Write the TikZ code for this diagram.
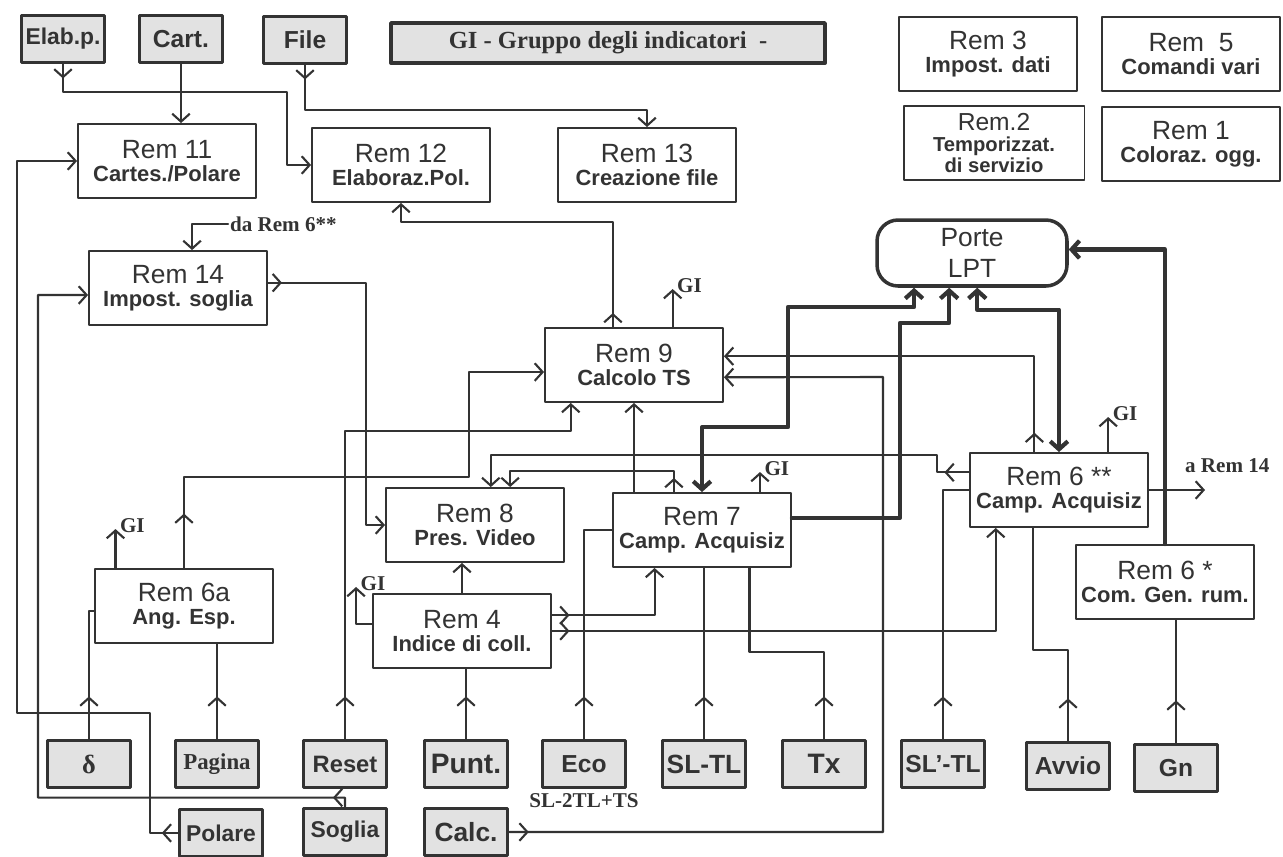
\documentclass[tikz,border=0pt]{standalone}
\usepackage{fontspec}
\setmainfont{Liberation Sans}
\newfontfamily\tsfont{Liberation Serif}
\usepackage{tikz}
\usetikzlibrary{arrows.meta,decorations.markings,positioning}
\definecolor{ink}{HTML}{333333}
\definecolor{boxgray}{HTML}{E2E2E2}
\newcommand\remhead{\fontsize{15}{17}\selectfont}
\newcommand\remsub{\bfseries\fontsize{12.5}{14}\selectfont}
\tikzset{
  every picture/.append style={line cap=round,line join=round},
  every node/.append style={text=ink},
  remblock/.style={draw=ink,line width=1.1pt,fill=white,minimum width=3.56cm,minimum height=1.48cm,align=center,inner sep=1pt},
  inblock/.style={draw=ink,line width=2.2pt,fill=boxgray,minimum width=1.66cm,minimum height=0.94cm,inner sep=1pt},
  wire/.style={draw=ink,line width=1.2pt},
  buswire/.style={draw=ink,line width=2.4pt},
  tipat/.style={postaction={decorate,decoration={markings,mark=at position #1 with {\arrow{>}}}}},
  gilabel/.style={font=\tsfont\bfseries\fontsize{12}{13}\selectfont,inner sep=0pt,anchor=base west,xshift=2pt,yshift=-2pt},
  notelabel/.style={font=\tsfont\bfseries\fontsize{12}{13}\selectfont,inner sep=1pt}
}
\begin{document}
\begin{tikzpicture}[x=0.02cm,y=-0.02cm,>={Straight Barb[length=4.5pt,width=10pt]}]
\useasboundingbox (0,0) rectangle (1283,856);

% inputs, top row
\node[inblock,font=\bfseries\fontsize{13}{15}\selectfont] (elab) at (63,39) {Elab.p.};
\node[inblock,font=\bfseries\fontsize{14}{16}\selectfont] (cart) at (181,39) {Cart.};
\node[inblock,font=\bfseries\fontsize{14}{16}\selectfont] (file) at (305,40) {File};
\node[inblock,minimum width=8.68cm,minimum height=0.8cm,font=\tsfont\bfseries\fontsize{14}{16}\selectfont] (title) at (608,43) {GI - Gruppo degli indicatori\ \ -};

% blocks
\node[remblock] (rem11) at (167,161) {\remhead Rem 11\\[1pt]\remsub Cartes./Polare};
\node[remblock] (rem12) at (401,165) {\remhead Rem 12\\[1pt]\remsub Elaboraz.Pol.};
\node[remblock] (rem13) at (647,165) {\remhead Rem 13\\[1pt]\remsub Creazione file};
\node[remblock] (rem3) at (988,54) {\remhead Rem 3\\[1pt]\remsub Impost. dati};
\node[remblock] (rem5) at (1191,54) {\remhead Rem\ \ 5\\[1pt]\remsub Comandi vari};
\node[remblock,minimum width=3.62cm] (rem2) at (994,143) {\fontsize{14}{13}\selectfont Rem.2\\\bfseries\fontsize{11.5}{12.5}\selectfont Temporizzat.\\\bfseries\fontsize{11.5}{12.5}\selectfont di servizio};
\node[remblock] (rem1) at (1191,144) {\remhead Rem 1\\[1pt]\remsub Coloraz. ogg.};
\node[remblock] (rem14) at (178,288) {\remhead Rem 14\\[1pt]\remsub Impost. soglia};
\node[remblock] (rem9) at (634,365) {\remhead Rem 9\\[1pt]\remsub Calcolo TS};
\node[remblock] (rem6a) at (184,606) {\remhead Rem 6a\\[1pt]\remsub Ang. Esp.};
\node[remblock] (rem8) at (475,525) {\remhead Rem 8\\[1pt]\remsub Pres. Video};
\node[remblock] (rem4) at (462,631) {\remhead Rem 4\\[1pt]\remsub Indice di coll.};
\node[remblock] (rem7) at (702,530) {\remhead Rem 7\\[1pt]\remsub Camp. Acquisiz};
\node[remblock] (rem6ss) at (1059,490) {\remhead Rem 6 **\\[1pt]\remsub Camp. Acquisiz};
\node[remblock] (rem6s) at (1165,582) {\remhead Rem 6 *\\[1pt]\remsub Com. Gen. rum.};
\node[draw=ink,line width=2pt,rounded corners=12pt,minimum width=3.8cm,minimum height=1.32cm,align=center,font=\fontsize{15}{18}\selectfont] (lpt) at (972,253) {Porte\\LPT};

% inputs, bottom rows
\node[inblock,font=\tsfont\bfseries\fontsize{15}{17}\selectfont] (delta) at (89,764) {δ};
\node[inblock,font=\tsfont\bfseries\fontsize{13}{15}\selectfont] (pagina) at (217,764) {Pagina};
\node[inblock,font=\bfseries\fontsize{13.5}{15}\selectfont] (reset) at (345,764) {Reset};
\node[inblock,font=\bfseries\fontsize{16}{18}\selectfont] (punt) at (466,764) {Punt.};
\node[inblock,font=\bfseries\fontsize{14}{16}\selectfont] (eco) at (584,764) {Eco};
\node[inblock,font=\bfseries\fontsize{15}{17}\selectfont] (sltl) at (704,764) {SL-TL};
\node[inblock,font=\bfseries\fontsize{16}{18}\selectfont] (tx) at (824,764) {Tx};
\node[inblock,font=\bfseries\fontsize{14}{16}\selectfont] (slptl) at (943,764) {SL'-TL};
\node[inblock,font=\bfseries\fontsize{14}{16}\selectfont] (avvio) at (1068,766) {Avvio};
\node[inblock,font=\bfseries\fontsize{14}{16}\selectfont] (gn) at (1176,768) {Gn};
\node[inblock,font=\bfseries\fontsize{13}{15}\selectfont] (polare) at (221,833) {Polare};
\node[inblock,font=\bfseries\fontsize{13}{15}\selectfont] (soglia) at (345,832) {Soglia};
\node[inblock,font=\bfseries\fontsize{15}{17}\selectfont] (calc) at (466,832) {Calc.};
\node[notelabel,below=1pt of eco] (ecosub) {SL-2TL+TS};
\node[notelabel,anchor=west] (darem) at (228,224) {da Rem 6**};
\node[notelabel,anchor=west] (arem) at (1183,466) {a Rem 14};
\coordinate (to14) at (1205,490);

% top wiring
\draw[wire,->,tipat=8pt] (elab.south) |- (287,92) |- (rem12.west);
\draw[wire,->] (cart.south) -- (cart.south |- rem11.north);
\draw[wire,->,tipat=8pt] (file.south) -- ++(0,45) -| (rem13.north);

% Rem 14, Rem 11
\draw[wire,->] (darem.west) -| ([xshift=8pt]rem14.north);
\draw[wire,->,tipat=8pt] ([yshift=3pt]rem14.east) -- ++(98,0) |- (rem8.west);
\draw[wire,->,tipat=12pt] (soglia.north) -- ++(0,-9) -| (38,295) -- ([yshift=-4pt]rem14.west);
\draw[wire,->,tipat=9pt] (polare.west) -| (150,713) -- (17,713) |- (rem11.west);

% Rem 9
\draw[wire,->,tipat=8pt] ([xshift=-12pt]rem9.north) -- ++(0,-105) -| (rem12.south);
\draw[wire,->] ([xshift=22pt]rem9.north) -- ++(0,-38) node[gilabel] (gi9) {GI};
\draw[wire,->,tipat=31pt] (rem6a.north) |- (469,477) |- ([yshift=-4pt]rem9.west);
\draw[wire,->,tipat=24pt] (reset.north) -- ++(0,-308) -| ([xshift=-36pt]rem9.south);
\draw[wire,->] (rem7.north -| rem9.south) -- (rem9.south);
\draw[wire,->,tipat=11pt] ([xshift=-14pt]rem6ss.north) |- ([yshift=5pt]rem9.east);
\draw[wire,->,tipat=11pt] (calc.east) -| (883,377) -- ([yshift=-7pt]rem9.east);

% Rem 8, Rem 4
\draw[wire,->,tipat=14pt] ([yshift=10pt]rem6ss.west) -- ++(-32,0) -- ++(0,-17) -| ([xshift=9pt]rem8.north);
\draw[wire,->,tipat=8pt] ([xshift=-16pt]rem7.north) -- ++(0,-21) -| ([xshift=20pt]rem8.north);
\draw[wire,->] (rem4.north) -- (rem4.north |- rem8.south);
\draw[wire,->] ([yshift=4pt]rem4.west) -- ++(-16,0) -- ++(0,-37) node[gilabel] (gi4) {GI};
\draw[wire,->,tipat=10pt] ([yshift=9pt]rem4.east) -| ([xshift=-27pt]rem7.south);
\draw[wire,->,tipat=10pt] (rem4.east) -| ([xshift=-36pt]rem6ss.south);

% Rem 7 and the LPT ports
\draw[wire,->] ([xshift=33pt]rem7.north) -- ++(0,-20) node[gilabel] (gi7) {GI};
\draw[buswire,<->] (rem7.north) -- ++(0,-65) -| (788,307) -| ([xshift=-33pt]lpt.south);
\draw[buswire,->] ([yshift=7pt]rem7.east) -| (900,323) -| ([xshift=-13pt]lpt.south);
\draw[buswire,<->] ([xshift=3pt]lpt.south) -- ++(0,22) -| (rem6ss.north);
\draw[buswire,->] (rem6s.north) |- ([yshift=2pt]lpt.east);

% Rem 6**, Rem 6a
\draw[wire,->] ([xshift=28pt]rem6ss.north) -- ++(0,-35) node[gilabel] (gi6ss) {GI};
\draw[wire,->] (rem6ss.east) -- (to14);
\draw[wire,->] ([xshift=-39pt]rem6a.north) -- ++(0,-39) node[gilabel] (gi6a) {GI};
\draw[wire,tipat=24pt] (delta.north) |- ([yshift=-3pt]rem6a.west);
\draw[wire,tipat=24pt] (pagina.north) -- (pagina.north |- rem6a.south);

% bottom inputs
\draw[wire,tipat=24pt] (punt.north) -- (punt.north |- rem4.south);
\draw[wire,tipat=24pt] (eco.north) |- (rem7.west);
\draw[wire,tipat=24pt] (sltl.north) -- (sltl.north |- rem7.south);
\draw[wire,tipat=24pt] (tx.north) -- ++(0,-87) -| ([xshift=27pt]rem7.south);
\draw[wire,tipat=24pt] (slptl.north) |- (rem6ss.west);
\draw[wire,tipat=24pt] (avvio.north) -- ++(0,-91) -| ([xshift=-15pt]rem6ss.south);
\draw[wire,tipat=24pt] (gn.north) -- (gn.north |- rem6s.south);
\end{tikzpicture}
\end{document}
